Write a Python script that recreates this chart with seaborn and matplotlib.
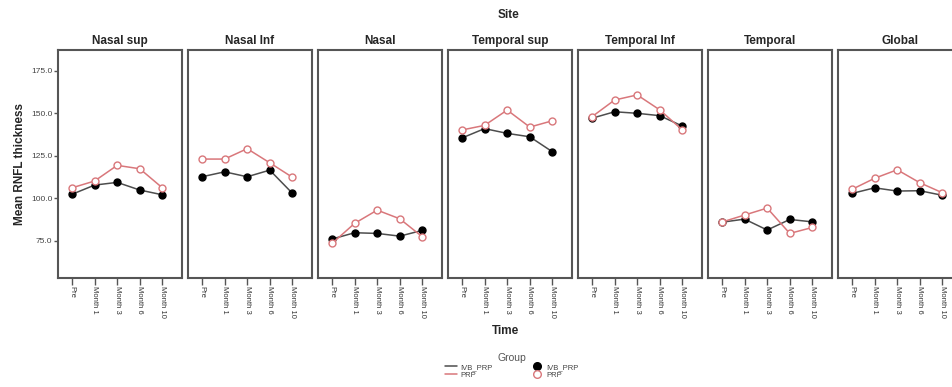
import matplotlib
matplotlib.use("Agg")
import matplotlib.pyplot as plt
from matplotlib.lines import Line2D
import seaborn as sns
import pandas as pd

sns.set_style("white")
plt.rcParams['font.family'] = ['Liberation Sans', 'DejaVu Sans']

sites = ["Nasal sup", "Nasal Inf", "Nasal", "Temporal sup", "Temporal Inf", "Temporal", "Global"]
times = ["Pre", "Month 1", "Month 3", "Month 6", "Month 10"]
groups = ["IVB_PRP", "PRP"]

ivb_prp = {
    "Nasal sup":    [102.4, 107.8, 109.4, 104.9, 102.1],
    "Nasal Inf":    [112.7, 115.6, 112.7, 116.6, 103.0],
    "Nasal":        [76.1, 79.8, 79.4, 77.8, 81.2],
    "Temporal sup": [135.5, 141.0, 138.2, 136.2, 127.4],
    "Temporal Inf": [147.1, 150.9, 150.0, 148.6, 142.5],
    "Temporal":     [86.0, 87.8, 81.4, 87.6, 86.2],
    "Global":       [102.9, 106.2, 104.3, 104.5, 101.8],
}
prp = {
    "Nasal sup":    [106.2, 110.2, 119.4, 117.4, 106.2],
    "Nasal Inf":    [123.1, 123.1, 129.2, 120.9, 112.4],
    "Nasal":        [73.5, 85.3, 93.1, 88.0, 77.4],
    "Temporal sup": [140.2, 142.9, 151.9, 141.9, 145.6],
    "Temporal Inf": [148.0, 157.8, 160.8, 152.0, 140.2],
    "Temporal":     [86.1, 90.2, 94.3, 79.4, 82.9],
    "Global":       [105.3, 111.8, 116.8, 109.2, 103.3],
}
yticks = [75.0, 100.0, 125.0, 150.0, 175.0]

rows = []
for s in sites:
    for t, a, b in zip(times, ivb_prp[s], prp[s]):
        rows.append({"Site": s, "Time": t, "Group": "IVB_PRP", "Value": a})
        rows.append({"Site": s, "Time": t, "Group": "PRP", "Value": b})
df = pd.DataFrame(rows)

W, H = 952, 387
fig = plt.figure(figsize=(W / 100, H / 100), dpi=100)

line_col = {"IVB_PRP": "#4d4d4d", "PRP": "#d9777b"}
edge_col = {"IVB_PRP": "#000000", "PRP": "#d9777b"}
face_col = {"IVB_PRP": "#000000", "PRP": "white"}
frame_col = "#555555"

left0 = 58
pw = 124
gap = 6
top, bottom = 50, 278
for i, s in enumerate(sites):
    x0 = left0 + i * (pw + gap)
    ax = fig.add_axes([x0 / W, 1 - bottom / H, pw / W, (bottom - top) / H])
    sub = df[df["Site"] == s]
    for g in groups:
        sns.lineplot(data=sub[sub["Group"] == g], x="Time", y="Value", ax=ax,
                     color=line_col[g], sort=False, linewidth=1.1,
                     marker="o", markersize=5, markeredgewidth=1.0,
                     markerfacecolor=face_col[g], markeredgecolor=edge_col[g],
                     legend=False)
    ax.set_xlim(-0.62, 4.87)
    ax.set_ylim(53.2, 187.2)
    ax.set_xticks(range(len(times)))
    ax.set_xticklabels(times, rotation=-90, fontsize=5.5, color="#333333")
    ax.tick_params(axis="x", direction="out", length=5, width=1, color=frame_col, pad=1, bottom=True)
    ax.set_yticks(yticks)
    if i == 0:
        ax.set_yticklabels([f"{v:.1f}" for v in yticks], fontsize=6, color="#444444")
        ax.tick_params(axis="y", direction="out", length=3, width=1, color=frame_col, pad=1, left=True)
    else:
        ax.set_yticklabels([])
        ax.tick_params(axis="y", length=0)
    ax.set_xlabel("")
    ax.set_ylabel("")
    for sp in ax.spines.values():
        sp.set_visible(True)
        sp.set_color(frame_col)
        sp.set_linewidth(1.5)
    ax.grid(False)
    ax.set_title(s, fontsize=8.5, fontweight="bold", pad=4)

fig.text(509 / W, 1 - 15 / H, "Site", ha="center", va="center", fontsize=8.5, fontweight="bold")
fig.text(505 / W, 1 - 331 / H, "Time", ha="center", va="center", fontsize=8.5, fontweight="bold")
fig.text(20 / W, 1 - 164 / H, "Mean RNFL thickness", ha="center", va="center", rotation=90,
         fontsize=8.5, fontweight="bold")

handles = [
    Line2D([], [], color=line_col["IVB_PRP"], lw=1.1),
    Line2D([], [], color=line_col["PRP"], lw=1.1),
    Line2D([], [], ls="none", marker="o", markersize=5.5, markerfacecolor="black", markeredgecolor="black"),
    Line2D([], [], ls="none", marker="o", markersize=5.5, markerfacecolor="white", markeredgecolor=line_col["PRP"], markeredgewidth=1.0),
]
labels = ["IVB_PRP", "PRP", "IVB_PRP", "PRP"]
leg = fig.legend(handles, labels, ncol=2, title="Group", loc="center",
                 bbox_to_anchor=(512 / W, 1 - 366 / H), frameon=False, fontsize=5.5,
                 title_fontsize=7.5, handlelength=1.6, handletextpad=0.4, columnspacing=5,
                 labelspacing=0.1, borderpad=0)
leg.get_title().set_color("#555555")
for t in leg.get_texts():
    t.set_color("#444444")

fig.savefig("out.png", dpi=100)
